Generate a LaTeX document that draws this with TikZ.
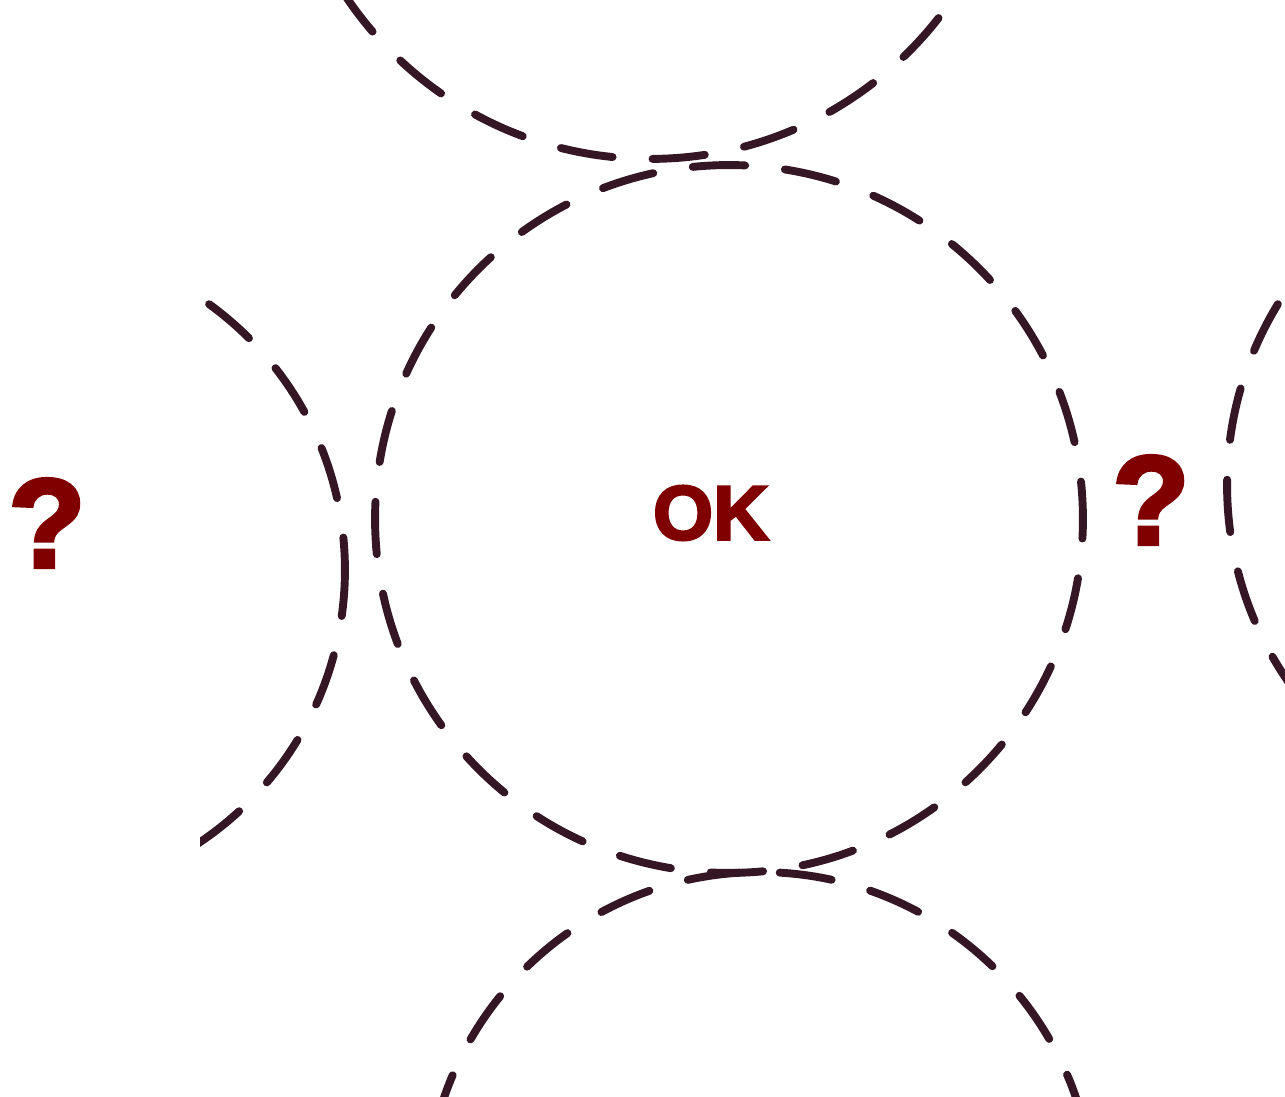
\documentclass[tikz,border=0pt]{standalone}
\usepackage{fontspec}
\usepackage{tikz}
\usetikzlibrary{positioning}
\newfontfamily\markfont{Liberation Sans}[BoldFeatures={FakeBold=3}]
\definecolor{InkDark}{RGB}{52, 22, 36}
\definecolor{MarkRed}{RGB}{128, 0, 0}
\tikzset{
  zone/.style={circle, draw=InkDark, line width=4.5pt, line cap=round,
    dash pattern=on 1.05cm off 0.8cm, inner sep=0pt},
  okmark/.style={font=\markfont\bfseries\fontsize{44}{44}\selectfont, text=MarkRed},
  qmark/.style={font=\markfont\bfseries\fontsize{72}{72}\selectfont, text=MarkRed},
}
\begin{document}
\begin{tikzpicture}[x=0.02cm, y=-0.02cm]
  \useasboundingbox (0,0) rectangle (1285,1097);
  \begin{scope}
    \clip (0,0) rectangle (1285,1097);
    % the middle ring and its neighbours
    \node[zone, minimum size=14.16cm, dash phase=0.3cm] (mid) at (729,519) {};
    \node[zone, minimum size=14.64cm, dash phase=0.6cm] (top) at (650,-207) {};
    \node[zone, minimum size=13.36cm, dash phase=0.2cm] (bot) at (760,1206) {};
    \node[zone, minimum size=13.88cm, dash phase=0.5cm] (rgt) at (1574,485) {};
  \end{scope}
  \begin{scope}
    \clip (200,0) rectangle (1285,1097);
    \node[zone, minimum size=13.12cm, dash phase=0.4cm] (lft) at (17,570) {};
  \end{scope}
  \node[okmark] (ok) at (711,513) {OK};
  \node[qmark] (qleft) at (47,523) {?};
  \node[qmark] (qright) at (1151,500) {?};
\end{tikzpicture}
\end{document}
